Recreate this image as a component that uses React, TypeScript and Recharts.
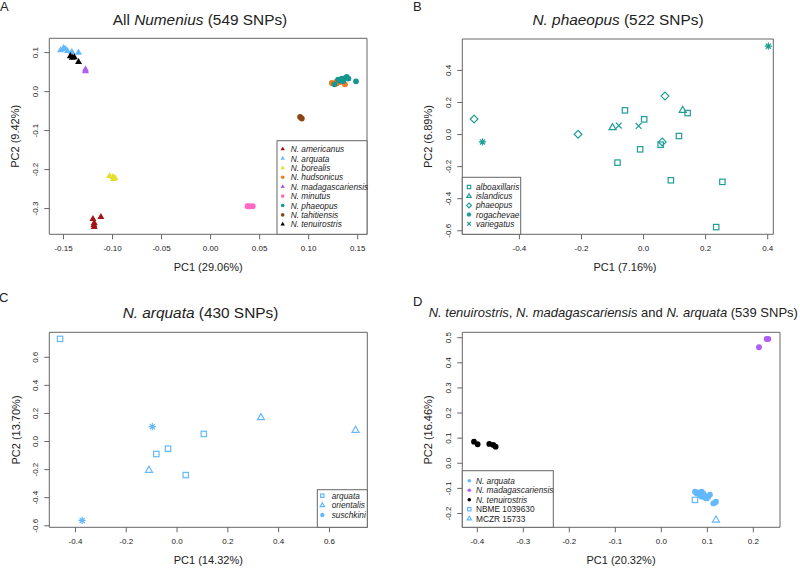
import React from 'react'
import { ScatterChart, Scatter, XAxis, YAxis, ReferenceArea } from 'recharts'

type Pt = [number, number]
type Mark = 'tri' | 'dot' | 'sq' | 'otri' | 'dia' | 'ast' | 'x'

const FONT = '"Liberation Sans", Arial, Helvetica, sans-serif'
const INK = '#222'
const FRAME = '#666'

// ---- panel A: all Numenius ----
const A_AMERICANUS: Pt[] = [[-0.120, -0.327], [-0.1187, -0.337], [-0.119, -0.342], [-0.1187, -0.347], [-0.1119, -0.3215]]
const A_ARQUATA: Pt[] = [[-0.153, 0.106], [-0.150, 0.112], [-0.148, 0.109], [-0.146, 0.104], [-0.1415, 0.1015], [-0.1347, 0.100]]
const A_BOREALIS: Pt[] = [[-0.103, -0.2164], [-0.0996, -0.219], [-0.0976, -0.2215], [-0.099, -0.224]]
const A_HUDSONICUS: Pt[] = [[0.1236, 0.022], [0.128, 0.0246], [0.132, 0.0246], [0.137, 0.0187], [0.1287, 0.0205]]
const A_MADAGASCARIENSIS: Pt[] = [[-0.1276, 0.057], [-0.1276, 0.052]]
const A_MINUTUS: Pt[] = [[0.0376, -0.294], [0.040, -0.294], [0.043, -0.294]]
const A_PHAEOPUS: Pt[] = [[0.1263, 0.0187], [0.130, 0.0308], [0.1337, 0.0333], [0.1388, 0.0374], [0.1353, 0.0272], [0.1405, 0.0333], [0.1483, 0.0264], [0.132, 0.028], [0.1365, 0.034]]
const A_TAHITIENSIS: Pt[] = [[0.0913, -0.065], [0.093, -0.069]]
const A_TENUIROSTRIS: Pt[] = [[-0.143, 0.091], [-0.141, 0.087], [-0.139, 0.088], [-0.1347, 0.076]]
const A_XTICKS = [-0.15, -0.1, -0.05, 0, 0.05, 0.1, 0.15]
const A_YTICKS = [-0.3, -0.2, -0.1, 0, 0.1]

// ---- panel B: N. phaeopus ----
const B_ALBOAXILLARIS: Pt[] = [[-0.060, 0.151], [0.002, 0.095], [-0.011, -0.092], [-0.084, -0.175], [0.055, -0.063], [0.114, -0.009], [0.142, 0.134], [0.088, -0.285], [0.254, -0.295], [0.234, -0.577]]
const B_ISLANDICUS: Pt[] = [[-0.100, 0.043], [0.126, 0.151]]
const B_PHAEOPUS: Pt[] = [[-0.546, 0.097], [-0.211, 0.002], [0.069, 0.240], [0.060, -0.046]]
const B_ROGACHEVAE: Pt[] = [[-0.519, -0.046], [0.402, 0.551]]
const B_VARIEGATUS: Pt[] = [[-0.080, 0.056], [-0.016, 0.054]]
const B_XTICKS = [-0.4, -0.2, 0, 0.2, 0.4]
const B_YTICKS = [-0.6, -0.4, -0.2, 0, 0.2, 0.4]

// ---- panel C: N. arquata ----
const C_ARQUATA: Pt[] = [[-0.4605, 0.731], [-0.0816, -0.089], [-0.0355, -0.051], [0.1053, 0.054], [0.0342, -0.239]]
const C_ORIENTALIS: Pt[] = [[-0.1105, -0.205], [0.3303, 0.170], [0.7026, 0.080]]
const C_SUSCHKINI: Pt[] = [[-0.0974, 0.106], [-0.3737, -0.562]]
const C_XTICKS = [-0.4, -0.2, 0, 0.2, 0.4, 0.6]
const C_YTICKS = [-0.6, -0.4, -0.2, 0, 0.2, 0.4, 0.6]

// ---- panel D: tenuirostris, madagascariensis, arquata ----
const D_ARQUATA: Pt[] = [[0.0732, -0.113], [0.0768, -0.12], [0.080, -0.116], [0.0841, -0.127], [0.0877, -0.113], [0.0877, -0.133], [0.0913, -0.12], [0.095, -0.137], [0.0949, -0.129], [0.0986, -0.14], [0.1022, -0.133], [0.1058, -0.125], [0.113, -0.16], [0.1167, -0.156], [0.1188, -0.153]]
const D_MADAGASCARIENSIS: Pt[] = [[0.2123, 0.462], [0.229, 0.495], [0.2326, 0.495]]
const D_TENUIROSTRIS: Pt[] = [[-0.4072, 0.086], [-0.3993, 0.0757], [-0.3739, 0.077], [-0.3652, 0.0729], [-0.3601, 0.066]]
const D_NBME: Pt[] = [[0.0732, -0.146]]
const D_MCZR: Pt[] = [[0.1188, -0.226]]
const D_XTICKS = [-0.4, -0.3, -0.2, -0.1, 0, 0.1, 0.2]
const D_YTICKS = [-0.2, -0.1, 0, 0.1, 0.2, 0.3, 0.4, 0.5]

const C_AMER = '#a31414'
const C_ARQ = '#63b8ff'
const C_BOR = '#e3df2c'
const C_HUD = '#ef7a1f'
const C_MAD = '#ae5ef2'
const C_MIN = '#ff69c2'
const C_PHA = '#15968e'
const C_TAH = '#8b4513'
const C_TEN = '#000000'
const C_TEAL = '#1f9e96'

function Marker({ kind, cx, cy, color, k = 1 }: { kind: Mark; cx: number; cy: number; color: string; k?: number }) {
  if (cx == null || cy == null) return null
  switch (kind) {
    case 'tri': {
      const s = 7 * k, h = s * 0.866
      return <polygon points={`${cx},${cy - (2 * h) / 3} ${cx - s / 2},${cy + h / 3} ${cx + s / 2},${cy + h / 3}`} fill={color} />
    }
    case 'dot':
      return <circle cx={cx} cy={cy} r={2.9 * k} fill={color} />
    case 'sq': {
      const s = 5.4 * k
      return <rect x={cx - s / 2} y={cy - s / 2} width={s} height={s} fill="none" stroke={color} strokeWidth={1.2} />
    }
    case 'otri': {
      const s = 7 * k, h = s * 0.866
      return <polygon points={`${cx},${cy - (2 * h) / 3} ${cx - s / 2},${cy + h / 3} ${cx + s / 2},${cy + h / 3}`} fill="none" stroke={color} strokeWidth={1.2} />
    }
    case 'dia': {
      const d = 3.9 * k
      return <polygon points={`${cx},${cy - d} ${cx + d},${cy} ${cx},${cy + d} ${cx - d},${cy}`} fill="none" stroke={color} strokeWidth={1.2} />
    }
    case 'ast': {
      const r = 3.6 * k, q = r * 0.707
      return <path d={`M${cx - r},${cy}H${cx + r}M${cx},${cy - r}V${cy + r}M${cx - q},${cy - q}L${cx + q},${cy + q}M${cx - q},${cy + q}L${cx + q},${cy - q}`} stroke={color} strokeWidth={1.2} />
    }
    case 'x': {
      const r = 2.9 * k
      return <path d={`M${cx - r},${cy - r}L${cx + r},${cy + r}M${cx - r},${cy + r}L${cx + r},${cy - r}`} stroke={color} strokeWidth={1.2} />
    }
  }
  return null
}

interface Series { name: string; pts: Pt[]; color: string; mark: Mark; italic?: boolean }

const toData = (pts: Pt[]) => pts.map(([x, y]) => ({ x, y }))

function makeXTick(digits: number) {
  return (p: any) => (
    <text x={p.x} y={p.y + 10} textAnchor="middle" fontSize={8} fill={INK} fontFamily={FONT}>
      {Number(p.payload.value).toFixed(digits)}
    </text>
  )
}

function makeYTick(digits: number) {
  return (p: any) => (
    <g transform={`translate(${p.x - 4},${p.y}) rotate(-90)`}>
      <text x={0} y={0} textAnchor="middle" fontSize={8} fill={INK} fontFamily={FONT}>
        {Number(p.payload.value).toFixed(digits)}
      </text>
    </g>
  )
}

interface PanelProps {
  left: number
  top: number
  frame: { l: number; t: number; r: number; b: number }
  xDomain: [number, number]
  yDomain: [number, number]
  xTicks: number[]
  yTicks: number[]
  xDigits: number
  yDigits: number
  series: Series[]
}

function Panel({ left, top, frame, xDomain, yDomain, xTicks, yTicks, xDigits, yDigits, series }: PanelProps) {
  const axisW = 40
  const axisH = 30
  return (
    <div style={{ position: 'absolute', left, top, width: 400, height: 285 }}>
      <ScatterChart
        width={400}
        height={285}
        margin={{ left: frame.l - axisW, top: frame.t, right: 400 - frame.r, bottom: 285 - frame.b - axisH }}
      >
        <XAxis
          type="number"
          dataKey="x"
          domain={xDomain}
          ticks={xTicks}
          interval={0}
          allowDataOverflow
          axisLine={false}
          tickSize={5}
          tickLine={{ stroke: FRAME }}
          tick={makeXTick(xDigits)}
          height={axisH}
        />
        <YAxis
          type="number"
          dataKey="y"
          domain={yDomain}
          ticks={yTicks}
          interval={0}
          allowDataOverflow
          axisLine={false}
          tickSize={5}
          tickLine={{ stroke: FRAME }}
          tick={makeYTick(yDigits)}
          width={axisW}
        />
        <ReferenceArea x1={xDomain[0]} x2={xDomain[1]} y1={yDomain[0]} y2={yDomain[1]} fill="none" fillOpacity={0} stroke={FRAME} strokeWidth={1} />
        {series.map((s) => (
          <Scatter
            key={s.name}
            name={s.name}
            data={toData(s.pts)}
            isAnimationActive={false}
            shape={(p: any) => <Marker kind={s.mark} cx={p.cx} cy={p.cy} color={s.color} />}
          />
        ))}
      </ScatterChart>
    </div>
  )
}

interface LegendProps {
  x: number
  y: number
  w: number
  h: number
  symX: number
  textX: number
  rowY: number
  step: number
  series: Series[]
}

function Legend({ x, y, w, h, symX, textX, rowY, step, series }: LegendProps) {
  return (
    <g>
      <rect x={x} y={y} width={w} height={h} fill="#fff" stroke={FRAME} strokeWidth={1} />
      {series.map((s, i) => (
        <g key={s.name}>
          <Marker kind={s.mark} cx={symX} cy={rowY + i * step} color={s.color} k={0.62} />
          <text x={textX} y={rowY + i * step + 3} fontSize={8.3} fill={INK} fontFamily={FONT} fontStyle={s.italic === false ? 'normal' : 'italic'}>
            {s.name}
          </text>
        </g>
      ))}
    </g>
  )
}

const A_SERIES: Series[] = [
  { name: 'N. americanus', pts: A_AMERICANUS, color: C_AMER, mark: 'tri' },
  { name: 'N. arquata', pts: A_ARQUATA, color: C_ARQ, mark: 'tri' },
  { name: 'N. borealis', pts: A_BOREALIS, color: C_BOR, mark: 'tri' },
  { name: 'N. hudsonicus', pts: A_HUDSONICUS, color: C_HUD, mark: 'dot' },
  { name: 'N. madagascariensis', pts: A_MADAGASCARIENSIS, color: C_MAD, mark: 'tri' },
  { name: 'N. minutus', pts: A_MINUTUS, color: C_MIN, mark: 'dot' },
  { name: 'N. phaeopus', pts: A_PHAEOPUS, color: C_PHA, mark: 'dot' },
  { name: 'N. tahitiensis', pts: A_TAHITIENSIS, color: C_TAH, mark: 'dot' },
  { name: 'N. tenuirostris', pts: A_TENUIROSTRIS, color: C_TEN, mark: 'tri' },
]

const B_SERIES: Series[] = [
  { name: 'alboaxillaris', pts: B_ALBOAXILLARIS, color: C_TEAL, mark: 'sq' },
  { name: 'islandicus', pts: B_ISLANDICUS, color: C_TEAL, mark: 'otri' },
  { name: 'phaeopus', pts: B_PHAEOPUS, color: C_TEAL, mark: 'dia' },
  { name: 'rogachevae', pts: B_ROGACHEVAE, color: C_TEAL, mark: 'ast' },
  { name: 'variegatus', pts: B_VARIEGATUS, color: C_TEAL, mark: 'x' },
]

const C_SERIES: Series[] = [
  { name: 'arquata', pts: C_ARQUATA, color: C_ARQ, mark: 'sq' },
  { name: 'orientalis', pts: C_ORIENTALIS, color: C_ARQ, mark: 'otri' },
  { name: 'suschkini', pts: C_SUSCHKINI, color: C_ARQ, mark: 'ast' },
]

const D_SERIES: Series[] = [
  { name: 'N. arquata', pts: D_ARQUATA, color: C_ARQ, mark: 'dot' },
  { name: 'N. madagascariensis', pts: D_MADAGASCARIENSIS, color: C_MAD, mark: 'dot' },
  { name: 'N. tenuirostris', pts: D_TENUIROSTRIS, color: C_TEN, mark: 'dot' },
  { name: 'NBME 1039630', pts: D_NBME, color: C_ARQ, mark: 'sq', italic: false },
  { name: 'MCZR 15733', pts: D_MCZR, color: C_ARQ, mark: 'otri', italic: false },
]

function YTitle({ x, y, children }: { x: number; y: number; children: React.ReactNode }) {
  return (
    <g transform={`translate(${x},${y}) rotate(-90)`}>
      <text x={0} y={0} textAnchor="middle" fontSize={11} fill={INK} fontFamily={FONT}>
        {children}
      </text>
    </g>
  )
}

function XTitle({ x, y, children }: { x: number; y: number; children: React.ReactNode }) {
  return (
    <text x={x} y={y} textAnchor="middle" fontSize={11} fill={INK} fontFamily={FONT}>
      {children}
    </text>
  )
}

export default function App() {
  return (
    <div style={{ position: 'absolute', left: 0, top: 0, width: 800, height: 570, background: '#fff', overflow: 'hidden' }}>
      <Panel
        left={0}
        top={0}
        frame={{ l: 49.3, t: 38.3, r: 367, b: 234.3 }}
        xDomain={[-0.1645, 0.1595]}
        yDomain={[-0.366, 0.1367]}
        xTicks={A_XTICKS}
        yTicks={A_YTICKS}
        xDigits={2}
        yDigits={1}
        series={A_SERIES}
      />
      <Panel
        left={400}
        top={0}
        frame={{ l: 62.3, t: 39, r: 373.3, b: 234.3 }}
        xDomain={[-0.584, 0.418]}
        yDomain={[-0.622, 0.596]}
        xTicks={B_XTICKS}
        yTicks={B_YTICKS}
        xDigits={1}
        yDigits={1}
        series={B_SERIES}
      />
      <Panel
        left={0}
        top={285}
        frame={{ l: 49.3, t: 47.3, r: 367.3, b: 242.3 }}
        xDomain={[-0.503, 0.749]}
        yDomain={[-0.611, 0.778]}
        xTicks={C_XTICKS}
        yTicks={C_YTICKS}
        xDigits={1}
        yDigits={1}
        series={C_SERIES}
      />
      <Panel
        left={400}
        top={285}
        frame={{ l: 62.3, t: 47.3, r: 380, b: 242.3 }}
        xDomain={[-0.4326, 0.258]}
        yDomain={[-0.255, 0.5215]}
        xTicks={D_XTICKS}
        yTicks={D_YTICKS}
        xDigits={1}
        yDigits={1}
        series={D_SERIES}
      />
      <svg width={800} height={570} style={{ position: 'absolute', left: 0, top: 0, pointerEvents: 'none' }}>
        {/* panel letters */}
        <text x={0} y={11} fontSize={13} fill={INK} fontFamily={FONT}>A</text>
        <text x={413} y={10.5} fontSize={13} fill={INK} fontFamily={FONT}>B</text>
        <text x={-1} y={301.5} fontSize={13} fill={INK} fontFamily={FONT}>C</text>
        <text x={413} y={306} fontSize={13} fill={INK} fontFamily={FONT}>D</text>

        {/* titles */}
        <text x={200} y={25} textAnchor="middle" fontSize={15.4} fill={INK} fontFamily={FONT}>
          All <tspan fontStyle="italic">Numenius</tspan> (549 SNPs)
        </text>
        <text x={618} y={25} textAnchor="middle" fontSize={15.4} fill={INK} fontFamily={FONT}>
          <tspan fontStyle="italic">N. phaeopus</tspan> (522 SNPs)
        </text>
        <text x={200.5} y={317.7} textAnchor="middle" fontSize={15.4} fill={INK} fontFamily={FONT}>
          <tspan fontStyle="italic">N. arquata</tspan> (430 SNPs)
        </text>
        <text x={613.3} y={317.3} textAnchor="middle" fontSize={13} fill={INK} fontFamily={FONT}>
          <tspan fontStyle="italic">N. tenuirostris</tspan>, <tspan fontStyle="italic">N. madagascariensis</tspan> and{' '}
          <tspan fontStyle="italic">N. arquata</tspan> (539 SNPs)
        </text>

        {/* axis titles */}
        <XTitle x={208.2} y={271}>PC1 (29.06%)</XTitle>
        <YTitle x={19} y={136.3}>PC2 (9.42%)</YTitle>
        <XTitle x={625} y={271}>PC1 (7.16%)</XTitle>
        <YTitle x={432.3} y={136.6}>PC2 (6.89%)</YTitle>
        <XTitle x={208.3} y={564}>PC1 (14.32%)</XTitle>
        <YTitle x={20} y={430}>PC2 (13.70%)</YTitle>
        <XTitle x={621} y={564}>PC1 (20.32%)</XTitle>
        <YTitle x={432.3} y={430}>PC2 (16.46%)</YTitle>

        {/* legends */}
        <Legend x={277} y={140.7} w={90} h={93.6} symX={282.7} textX={290.7} rowY={149.1} step={9.4} series={A_SERIES} />
        <Legend x={462.3} y={177.3} w={58.4} h={57} symX={469} textX={476} rowY={187} step={9.2} series={B_SERIES} />
        <Legend x={317.3} y={489.7} w={50} h={37.6} symX={322.3} textX={331.7} rowY={495.7} step={9.6} series={C_SERIES} />
        <Legend x={462.3} y={470.7} w={91} h={56.6} symX={469.3} textX={476} rowY={480.7} step={9.5} series={D_SERIES} />
      </svg>
    </div>
  )
}
